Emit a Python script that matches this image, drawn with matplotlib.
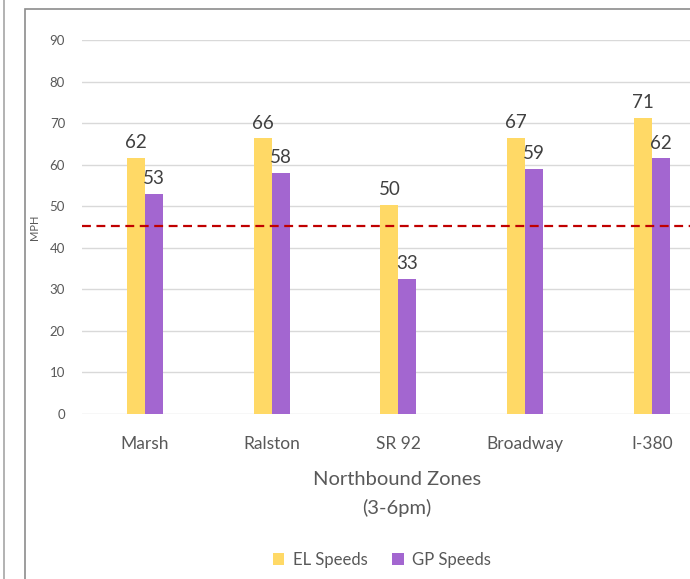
import matplotlib.pyplot as plt
import numpy as np
from matplotlib.patches import Rectangle
from matplotlib.lines import Line2D

plt.rcParams['font.family'] = ['Lato', 'DejaVu Sans']

zones = ['Marsh', 'Ralston', 'SR 92', 'Broadway', 'I-380']
el_speeds = [61.7, 66.3, 50.4, 66.5, 71.3]
gp_speeds = [53.0, 58.1, 32.6, 59.0, 61.5]
el_labels = ['62', '66', '50', '67', '71']
gp_labels = ['53', '58', '33', '59', '62']
threshold = 45.3

el_color = '#FFD966'
gp_color = '#A366D0'
text_gray = '#595959'

fig = plt.figure(figsize=(6.9, 5.79), dpi=100)

# outer frames (chart box and edge of a neighbouring box)
fig.patches.append(Rectangle((25 / 690, -0.1), 1.2, 1.1 - 9 / 579,
                             transform=fig.transFigure, fill=False,
                             edgecolor='#8C8C8C', linewidth=1.2))
fig.lines.append(Line2D([4 / 690, 4 / 690], [0, 1], transform=fig.transFigure,
                        color='#A6A6A6', linewidth=1.2))

ax = fig.add_axes([81.7 / 690, 165 / 579, 633.5 / 690, 374 / 579])

x = np.arange(len(zones))
w = 0.142
b1 = ax.bar(x - w / 2, el_speeds, w, color=el_color, label='EL Speeds', zorder=3)
b2 = ax.bar(x + w / 2, gp_speeds, w, color=gp_color, label='GP Speeds', zorder=3)

for bars, labels in ((b1, el_labels), (b2, gp_labels)):
    for rect, lab in zip(bars, labels):
        ax.text(rect.get_x() + rect.get_width() / 2, rect.get_height() + 1.6, lab,
                ha='center', va='bottom', fontsize=13.5, color='#404040', zorder=4)

ax.axhline(threshold, color='#C00000', linestyle=(0, (4, 2.5)), linewidth=1.6, zorder=5)

ax.set_ylim(0, 90)
ax.set_xlim(-0.5, len(zones) - 0.5)
ax.set_yticks(range(0, 91, 10))
ax.yaxis.grid(True, color='#D9D9D9', linewidth=1)
ax.set_axisbelow(True)
for s in ax.spines.values():
    s.set_visible(False)
ax.tick_params(axis='both', length=0, colors=text_gray)
ax.tick_params(axis='y', labelsize=9.5, pad=12)
ax.tick_params(axis='x', labelsize=12.5, pad=16)
ax.set_xticks(x)
ax.set_xticklabels(zones)
ax.set_ylabel('MPH', fontsize=8, color=text_gray, labelpad=7)
ax.set_xlabel('Northbound Zones\n(3-6pm)', fontsize=14.5, color=text_gray,
              linespacing=1.75)
ax.xaxis.set_label_coords((397 - 81.7) / 633.5, -0.152, transform=ax.transAxes)
ax.xaxis.label.set_va('top')

leg = fig.legend(loc='center', bbox_to_anchor=(382 / 690, 1 - 560 / 579), ncol=2,
                 frameon=False, fontsize=12, handlelength=0.7, handleheight=0.7,
                 handletextpad=0.5, columnspacing=1.5)
for t in leg.get_texts():
    t.set_color(text_gray)

fig.savefig('out.png', dpi=100)
